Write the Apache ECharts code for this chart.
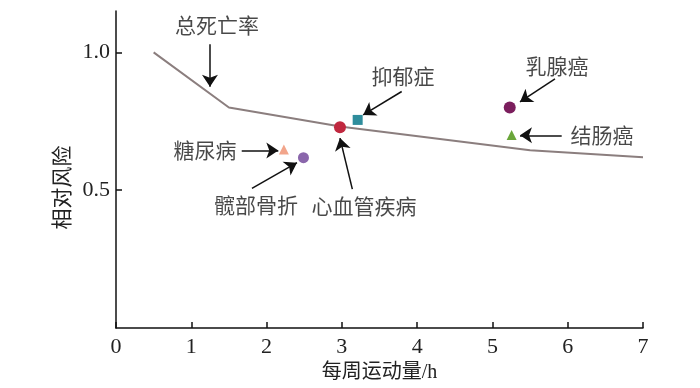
<!DOCTYPE html>
<html><head><meta charset="utf-8">
<script src="https://cdn.jsdelivr.net/npm/echarts@6/dist/echarts.min.js"></script>
<style>html,body{margin:0;padding:0;background:#fff}#c{width:700px;height:388px}</style>
</head><body><div id="c"></div>
<script>
// ---- data ----
const xTicks = [0,1,2,3,4,5,6,7];
const yTicks = [0.5,1.0];
const mortalityX = [0.5,1.5,3,5.5,7];
const mortalityY = [1.0,0.8,0.73,0.645,0.62];
const diseases = ['糖尿病','髋部骨折','心血管疾病','抑郁症','乳腺癌','结肠癌'];
const diseaseX = [2.23,2.49,2.975,3.21,5.23,5.255];
const diseaseY = [0.648,0.618,0.728,0.755,0.80,0.70];
const lineName = '总死亡率';

// ---- styling / annotation layout (data-space anchors) ----
const markerStyle = [
  {symbol:'triangle', size:10, color:'#f2a58b'},
  {symbol:'circle', size:11, color:'#8a66ab'},
  {symbol:'circle', size:12, color:'#c0283f'},
  {symbol:'rect', size:10, color:'#2e8d9c'},
  {symbol:'circle', size:12, color:'#7b1e5d'},
  {symbol:'triangle', size:10, color:'#6aa63a'}
];
const labelPos = {
  '总死亡率':[1.341,1.100], '抑郁症':[3.812,0.914], '乳腺癌':[5.857,0.950],
  '结肠癌':[6.455,0.700], '糖尿病':[1.182,0.646], '髋部骨折':[1.859,0.446],
  '心血管疾病':[3.294,0.443]
};
const arrows = [
  [[1.248,1.029],[1.248,0.875]],
  [[3.795,0.858],[3.283,0.773]],
  [[5.831,0.904],[5.366,0.820]],
  [[5.920,0.699],[5.366,0.699]],
  [[1.670,0.644],[2.156,0.644]],
  [[1.806,0.507],[2.404,0.600]],
  [[3.139,0.504],[2.975,0.689]]
];

const serif = "'Liberation Serif','Noto Sans CJK SC'";
const cjk = "'Noto Sans CJK SC'";
const chart = echarts.init(document.getElementById('c'), null, {renderer:'canvas'});

const series = [
  {type:'line', name:lineName, data: mortalityX.map((x,i)=>[x,mortalityY[i]]), symbol:'none',
   lineStyle:{color:'#8b7e7e', width:2}, z:2, silent:true}
];
diseases.forEach((d,i)=>{
  series.push({type:'scatter', name:d, data:[[diseaseX[i],diseaseY[i]]],
    symbol:markerStyle[i].symbol, symbolSize:markerStyle[i].size,
    itemStyle:{color:markerStyle[i].color, opacity:1}, z:4});
});
series.push({type:'lines', coordinateSystem:'cartesian2d', z:5,
  data: arrows.map(a=>({coords:a})),
  symbol:['none','arrow'], symbolSize:[8,12],
  lineStyle:{color:'#111', width:1.5, opacity:1, curveness:0}});
series.push({type:'scatter', symbolSize:0, z:6,
  data: Object.keys(labelPos).map(k=>({value:labelPos[k], name:k})),
  label:{show:true, position:'inside', formatter:p=>p.name, color:'#1a1a1a',
    fontSize:21, fontFamily:cjk}});

chart.setOption({
  animation:false,
  grid:{left:116, right:57, top:11, bottom:55},
  xAxis:{type:'value', min:0, max:7, interval:1,
    axisLine:{lineStyle:{color:'#111', width:1.5}},
    axisTick:{inside:true, length:6, lineStyle:{color:'#111', width:1.5}},
    axisLabel:{color:'#222', fontSize:22, fontFamily:serif, margin:8, customValues:xTicks},
    splitLine:{show:false},
    name:'每周运动量/h', nameLocation:'middle', nameGap:34,
    nameTextStyle:{color:'#222', fontSize:20, fontFamily:serif}},
  yAxis:{type:'value', min:0, max:1.15,
    axisLine:{show:true, lineStyle:{color:'#111', width:1.5}},
    axisTick:{show:true, inside:true, length:6, lineStyle:{color:'#111', width:1.5}, customValues:yTicks},
    axisLabel:{color:'#222', fontSize:22, fontFamily:serif, margin:6, customValues:yTicks,
      formatter:v=>v.toFixed(1)},
    splitLine:{show:false},
    name:'相对风险', nameLocation:'middle', nameGap:42,
    nameTextStyle:{color:'#222', fontSize:21, fontFamily:cjk, padding:[0,36,0,0]}},
  series: series
});
</script></body></html>
